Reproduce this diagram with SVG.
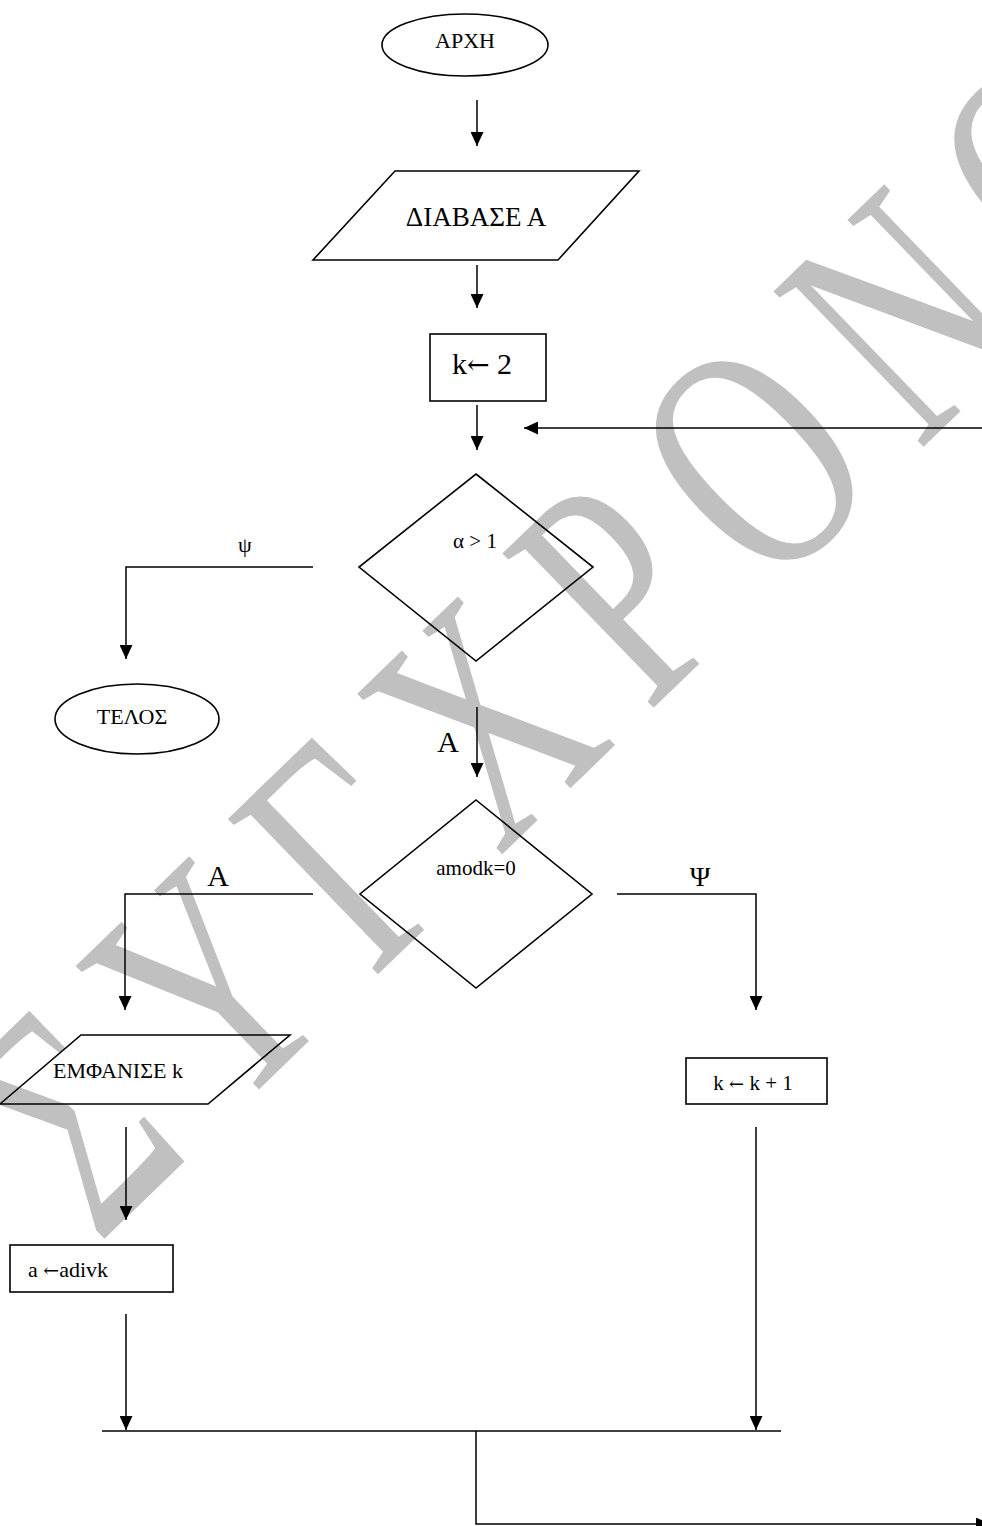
<svg xmlns="http://www.w3.org/2000/svg" width="982" height="1526" viewBox="0 0 982 1526">
<defs>
<style>
.ln{stroke:#000;stroke-width:1.5;fill:none}
.sh{stroke:#000;stroke-width:1.6;fill:none}
.t{font-family:"Liberation Serif","Times New Roman",serif;fill:#000;text-anchor:middle}
.ar{font-family:"DejaVu Serif","DejaVu Sans",serif}
.wm{font-family:"Liberation Serif","Times New Roman",serif;fill:#c0c0c0}
</style>
<marker id="ah" markerUnits="userSpaceOnUse" markerWidth="14" markerHeight="13" refX="14" refY="6.5" orient="auto">
<path d="M0,0 L14,6.5 L0,13 z" fill="#000"/>
</marker>
</defs>
<rect width="982" height="1526" fill="#fff"/>
<g id="watermark">
<text class="wm" font-size="100" letter-spacing="18" transform="matrix(1.654 -1.599 2.294 2.373 98 1245)">ΣΥΓΧΡΟΝΟ</text>
</g>
<g id="connectors">
<line class="ln" x1="477" y1="100" x2="477" y2="146" marker-end="url(#ah)"/>
<line class="ln" x1="477" y1="265" x2="477" y2="308" marker-end="url(#ah)"/>
<line class="ln" x1="477" y1="405" x2="477" y2="450" marker-end="url(#ah)"/>
<line class="ln" x1="982" y1="428" x2="524" y2="428" marker-end="url(#ah)"/>
<polyline class="ln" points="313,567 126,567 126,659" marker-end="url(#ah)"/>
<line class="ln" x1="477" y1="707" x2="477" y2="777" marker-end="url(#ah)"/>
<polyline class="ln" points="313,894 125,894 125,1010" marker-end="url(#ah)"/>
<polyline class="ln" points="617,894 756,894 756,1010" marker-end="url(#ah)"/>
<line class="ln" x1="126" y1="1127" x2="126" y2="1220" marker-end="url(#ah)"/>
<line class="ln" x1="126" y1="1314" x2="126" y2="1430" marker-end="url(#ah)"/>
<line class="ln" x1="756" y1="1127" x2="756" y2="1430" marker-end="url(#ah)"/>
<line class="ln" x1="102" y1="1431" x2="781" y2="1431"/>
<polyline class="ln" points="476,1431 476,1524 990,1524" marker-end="url(#ah)"/>
<text class="t" x="245" y="552" font-size="22">ψ</text>
<text class="t" x="448" y="752" font-size="30">Α</text>
<text class="t" x="218" y="886" font-size="30">Α</text>
<text class="t" x="700" y="886" font-size="28">Ψ</text>
</g>
<g id="start">
<ellipse class="sh" cx="465" cy="45" rx="83" ry="31"/>
<text class="t" x="465" y="48" font-size="22">ΑΡΧΗ</text>
</g>
<g id="read">
<polygon class="sh" points="395,171 639,171 558,260 313,260"/>
<text class="t" x="476" y="226" font-size="27">ΔΙΑΒΑΣΕ Α</text>
</g>
<g id="init">
<rect class="sh" x="430" y="334" width="116" height="67"/>
<text class="t" x="482" y="374" font-size="30">k<tspan class="ar" font-size="27">←</tspan> 2</text>
</g>
<g id="cond1">
<polygon class="sh" points="476,474 593,567 476,661 359,567"/>
<text class="t" x="475" y="548" font-size="21">α &gt; 1</text>
</g>
<g id="end">
<ellipse class="sh" cx="137" cy="719" rx="82" ry="35"/>
<text class="t" x="132" y="724" font-size="22">ΤΕΛΟΣ</text>
</g>
<g id="cond2">
<polygon class="sh" points="476,800 592,894 476,988 360,894"/>
<text class="t" x="476" y="875" font-size="21">amodk=0</text>
</g>
<g id="print">
<polygon class="sh" points="81,1035 290,1035 208,1104 0,1104"/>
<text class="t" x="118" y="1078" font-size="22">ΕΜΦΑΝΙΣΕ k</text>
</g>
<g id="inc">
<rect class="sh" x="686" y="1058" width="141" height="46"/>
<text class="t" x="753" y="1090" font-size="21">k <tspan class="ar" font-size="18">←</tspan> k + 1</text>
</g>
<g id="div">
<rect class="sh" x="10" y="1245" width="163" height="47"/>
<text x="28" y="1277" font-size="22" font-family="Liberation Serif, serif">a <tspan class="ar" font-size="19">←</tspan>adivk</text>
</g>
</svg>
